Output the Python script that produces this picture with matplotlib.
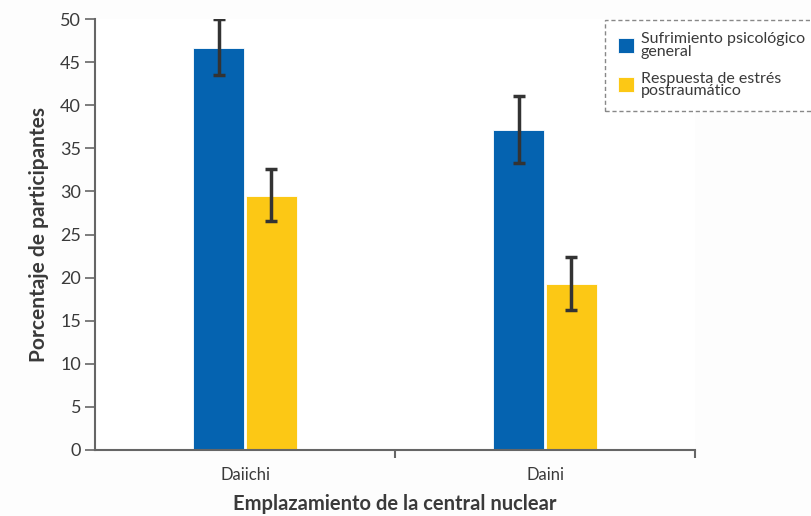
import matplotlib as mpl
mpl.use('Agg')
import matplotlib.pyplot as plt
import numpy as np

plt.rcParams['font.family'] = ['Lato', 'DejaVu Sans']

sites = ['Daiichi', 'Daini']
series = ['Sufrimiento psicológico\ngeneral', 'Respuesta de estrés\npostraumático']
distress = [46.6, 37.1]
distress_lo = [43.5, 33.3]
distress_hi = [50.0, 41.1]
ptsr = [29.5, 19.3]
ptsr_lo = [26.6, 16.2]
ptsr_hi = [32.6, 22.4]

blue = '#0563b0'
yellow = '#fcc815'
txt = '#3a3a3a'

fig = plt.figure(figsize=(8.12, 5.16), dpi=100)
ax = fig.add_axes([0.117, 0.128, 0.739, 0.835])

x = np.arange(len(sites))
w = 0.17
err1 = [np.array(distress) - np.array(distress_lo), np.array(distress_hi) - np.array(distress)]
err2 = [np.array(ptsr) - np.array(ptsr_lo), np.array(ptsr_hi) - np.array(ptsr)]
ekw = dict(ecolor='#333333', elinewidth=2.5, capsize=4, capthick=2.5)
ax.bar(x - 0.088, distress, w, color=blue, edgecolor='white', linewidth=0.6,
       yerr=err1, error_kw=ekw, label=series[0])
ax.bar(x + 0.088, ptsr, w, color=yellow, edgecolor='white', linewidth=0.6,
       yerr=err2, error_kw=ekw, label=series[1])

ax.set_xlim(-0.5, 1.5)
ax.set_ylim(0, 50)
ax.set_yticks(range(0, 51, 5))
ax.set_xticks(x)
ax.set_xticklabels(sites)
ax.set_xticks([0.5, 1.5], minor=True)
ax.tick_params(axis='x', which='major', length=0, pad=12, labelsize=12, labelcolor=txt)
ax.tick_params(axis='x', which='minor', length=6, color='#666666', width=1.5)
ax.tick_params(axis='y', length=7, color='#666666', width=1.2, labelsize=13, labelcolor=txt, pad=3)
for s in ['top', 'right']:
    ax.spines[s].set_visible(False)
for s in ['left', 'bottom']:
    ax.spines[s].set_color('#666666')
    ax.spines[s].set_linewidth(1.5)

ax.set_xlabel('Emplazamiento de la central nuclear', fontsize=14.5, fontweight='bold', color=txt, labelpad=8)
ax.set_ylabel('Porcentaje de participantes', fontsize=15, fontweight='bold', color=txt, labelpad=8)

leg = fig.legend(loc='upper left', bbox_to_anchor=(0.745, 0.962), fontsize=11.5,
                 handlelength=1.05, handleheight=1.05, handletextpad=0.4,
                 labelspacing=0.8, borderpad=0.8, borderaxespad=0,
                 fancybox=False, framealpha=1)
leg.get_frame().set_edgecolor('#888888')
leg.get_frame().set_linestyle((0, (3, 2)))
leg.get_frame().set_linewidth(1)
for t in leg.get_texts():
    t.set_color(txt)
    t.set_linespacing(0.85)

fig.savefig('out.png', dpi=100, facecolor='#fdfdfd')
